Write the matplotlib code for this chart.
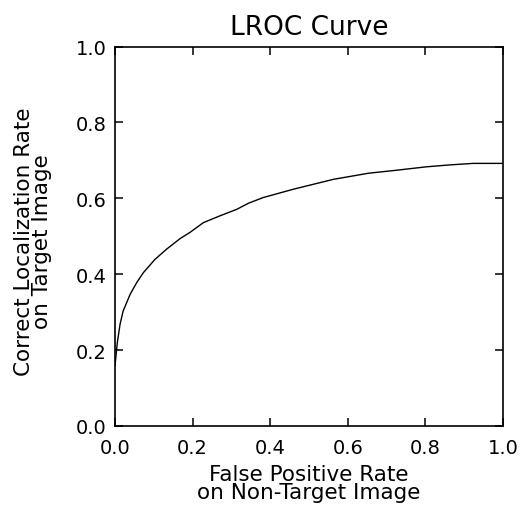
import matplotlib
matplotlib.use("Agg")
import matplotlib.pyplot as plt

# LROC operating points
false_positive_rate = [0.0, 0.006, 0.013, 0.021, 0.030, 0.039, 0.056, 0.073, 0.103,
                       0.133, 0.168, 0.193, 0.228, 0.271, 0.314, 0.344, 0.382,
                       0.460, 0.563, 0.653, 0.726, 0.803, 0.863, 0.923, 1.0]
localization_rate = [0.159, 0.220, 0.268, 0.303, 0.325, 0.347, 0.378, 0.404, 0.439,
                     0.466, 0.494, 0.510, 0.536, 0.554, 0.571, 0.587, 0.602,
                     0.624, 0.650, 0.666, 0.674, 0.683, 0.688, 0.692, 0.692]

ticks = [0.0, 0.2, 0.4, 0.6, 0.8, 1.0]
tick_labels = ["0.0", "0.2", "0.4", "0.6", "0.8", "1.0"]

W, H = 523, 510
fig = plt.figure(figsize=(W / 100, H / 100), dpi=100)
fig.patch.set_facecolor("white")

left, right, top, bottom = 115, 503, 47.5, 427
ax = fig.add_axes([left / W, 1 - bottom / H, (right - left) / W, (bottom - top) / H])

ax.plot(false_positive_rate, localization_rate, color="black", lw=1.0)

ax.set_xlim(0, 1)
ax.set_ylim(0, 1)
ax.set_xticks(ticks)
ax.set_xticklabels(tick_labels)
ax.set_yticks(ticks)
ax.set_yticklabels(tick_labels)
ax.tick_params(direction="in", length=5.8, width=1.1, top=True, right=True,
               labelsize=14, colors="black")
ax.tick_params(axis="x", pad=9)
ax.tick_params(axis="y", pad=6)
for s in ax.spines.values():
    s.set_linewidth(1.2)

ax.set_title("LROC Curve", fontsize=19, pad=9)

fig.text((left + right) / 2 / W, 1 - 484 / H,
         "False Positive Rate\non Non-Target Image",
         ha="center", va="center", fontsize=15.5, linespacing=0.85)
fig.text(33 / W, 1 - 242 / H,
         "Correct Localization Rate\non Target Image",
         ha="center", va="center", rotation=90, fontsize=15.5, linespacing=0.85)

fig.savefig("out.png", dpi=100, facecolor="white")
